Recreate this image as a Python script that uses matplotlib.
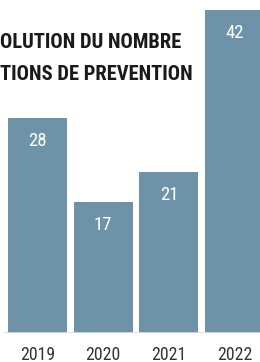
import matplotlib
matplotlib.use("Agg")
import matplotlib.pyplot as plt
from matplotlib import font_manager

# données
annees = ["2019", "2020", "2021", "2022"]
actions = [28, 17, 21, 42]
titre_l1 = "OLUTION DU NOMBRE"
titre_l2 = "TIONS DE PREVENTION"

BLEU = "#6E93A9"

# police étroite : on prend la première disponible
noms = {f.name for f in font_manager.fontManager.ttflist}
cond = sorted(n for n in noms if "ondensed" in n or "Narrow" in n)
FAM = None
for cand in ["Roboto Condensed", "Liberation Sans Narrow", "Open Sans Condensed",
             "DejaVu Sans Condensed", "Noto Sans Condensed"] + cond:
    if cand in noms:
        FAM = cand
        break
FONT = [FAM, "DejaVu Sans"] if FAM else ["DejaVu Sans"]

W, H = 260, 362
fig = plt.figure(figsize=(W / 100, H / 100), dpi=100)
fig.patch.set_facecolor("white")

base = 333  # ligne de base en pixels depuis le haut
ax = fig.add_axes([0, (H - base) / H, 1, base / H])
ax.set_xlim(-0.571, 3.387)
ax.set_ylim(0, base / 7.68)
ax.axis("off")

x = range(len(annees))
ax.bar(x, actions, width=0.898, color=BLEU)
ax.axhline(0, xmin=4 / W, xmax=1, color="#dddddd", lw=1.2)

for i, v in zip(x, actions):
    ax.text(i, v - 3.0, str(v), ha="center", va="center", color="white",
            fontsize=13.5, family=FONT)
    ax.text(i, -2.8, annees[i], ha="center", va="center", color="#333333",
            fontsize=12.8, family=FONT, clip_on=False)

fig.text(0, 1 - 42 / H, titre_l1, ha="left", va="center", color="#1a1a1a",
         fontsize=14.8, family=FONT, fontweight="bold")
fig.text(0, 1 - 75 / H, titre_l2, ha="left", va="center", color="#1a1a1a",
         fontsize=14.8, family=FONT, fontweight="bold")

fig.savefig("out.png", dpi=100)
